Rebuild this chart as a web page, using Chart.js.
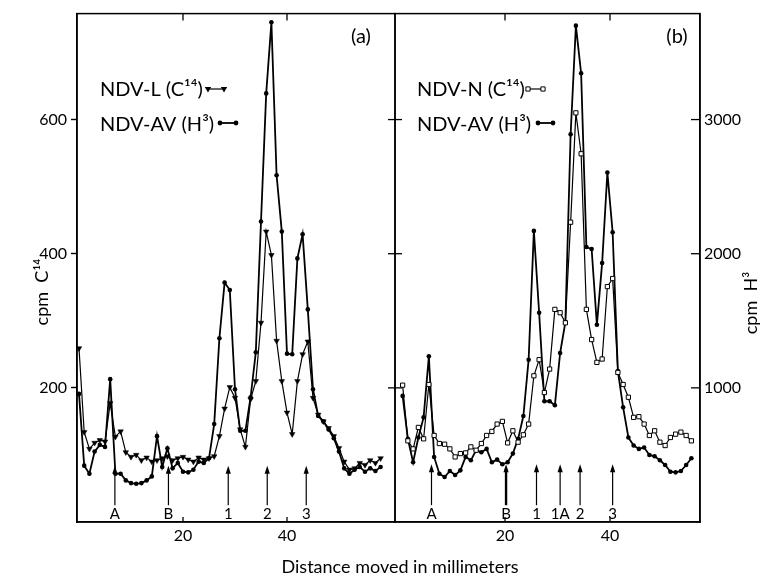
<!DOCTYPE html>
<html><head><meta charset="utf-8">
<script src="https://cdn.jsdelivr.net/npm/chart.js@4.4.1/dist/chart.umd.min.js"></script>
<style>
html,body{margin:0;padding:0;background:#fff;}
#wrap{position:relative;width:777px;height:580px;background:#fff;}
canvas{position:absolute;left:0;top:0;}
</style></head><body>
<div id="wrap"><canvas id="ca" width="777" height="580"></canvas><canvas id="cb" width="777" height="580"></canvas></div>
<script>
// ---------- data ----------
// Panel (a): distance moved (mm)
const mmA = [0,1,2,3,4,5,6,7,8,9,10,11,12,13,14,15,16,17,18,19,20,21,22,23,24,25,26,27,28,29,30,31,32,33,34,35,36,37,38,39,40,41,42,43,44,45,46,47,48,49,50,51,52,53,54,55,56,57,58];
// NDV-L (C14), cpm C14
const ndvL_C14 = [259,134,109,118,122,120,177,127,135,104,
  97,100,92,96,90,92,95,98,92,95,
  97,93,90,96,93,95,98,128,169,201,
  185,138,112,183,210,297,433,398,270,210,
  163,131,210,250,269,185,160,150,140,128,
  110,90,78,80,88,85,92,88,95];
// NDV-AV (H3), cpm H3, panel (a)
const ndvAV_H3_a = [955,420,360,525,575,560,1065,360,360,310,
  290,285,290,310,340,640,410,550,400,440,
  375,370,390,450,440,475,730,1370,1785,1730,
  990,680,680,930,1265,2240,3195,3725,2585,2165,
  1255,1250,1965,2145,1585,990,790,750,690,625,
  525,400,360,390,410,375,400,380,410];
// Panel (b): distance moved (mm)
const mmB = [0.5,1.5,2.5,3.5,4.5,5.5,6.5,7.5,8.5,9.5,10.5,11.5,12.5,13.5,14.5,15.5,16.5,17.5,18.5,19.5,20.5,21.5,22.5,23.5,24.5,25.5,26.5,27.5,28.5,29.5,30.5,31.5,32.5,33.5,34.5,35.5,36.5,37.5,38.5,39.5,40.5,41.5,42.5,43.5,44.5,45.5,46.5,47.5,48.5,49.5,50.5,51.5,52.5,53.5,54.5,55.5];
// NDV-N (C14), cpm C14
const ndvN_C14 = [204,121,109,141,124,205,129,117,116,109,
  97,102,103,112,107,117,129,135,146,150,
  118,136,119,130,146,218,242,193,228,317,
  312,297,447,610,549,317,272,238,243,351,
  363,223,205,186,156,157,146,129,136,119,
  114,126,131,134,129,121];
// NDV-AV (H3), cpm H3, panel (b)
const ndvAV_H3_b = [940,620,445,630,780,1235,485,360,335,380,
  350,385,485,460,535,520,545,445,465,430,
  445,510,620,790,1210,2170,1560,900,900,870,
  1260,1490,2890,3700,3345,2050,2035,1470,1930,2605,
  2160,1125,855,630,570,545,555,500,490,460,
  425,375,370,380,425,475];
// ticks
const xTicks = [20, 40];
const c14Ticks = [200, 400, 600];
const h3Ticks = [1000, 2000, 3000];
// arrow markers (label, mm)
const arrowLabelsA = ['A','B','1','2','3'];
const arrowMmA = [6.9, 17.2, 28.7, 36.2, 43.7];
const arrowLabelsB = ['A','B','1','1A','2','3'];
const arrowMmB = [6.0, 20.2, 26.0, 30.5, 34.3, 40.5];

// ---------- helpers ----------
const FONT = "Lato, 'DejaVu Sans', sans-serif";
const C14_MAX = 758, H3_MAX = 3790;
function pts(xs, ys){ return xs.map((x,i)=>({x:x, y:ys[i]})); }
function ln(ctx,x1,y1,x2,y2){ ctx.beginPath(); ctx.moveTo(x1,y1); ctx.lineTo(x2,y2); ctx.stroke(); }
function arrow(ctx,x,yTip,yBase,lw){
  ctx.lineWidth = lw;
  ln(ctx,x,yBase,x,yTip+4);
  ctx.beginPath(); ctx.moveTo(x,yTip); ctx.lineTo(x-2.6,yTip+8); ctx.lineTo(x+2.6,yTip+8); ctx.closePath(); ctx.fill();
}
function marker(ctx,type,x,y){
  ctx.save();
  if(type==='tri'){ ctx.beginPath(); ctx.moveTo(x-3.2,y-2); ctx.lineTo(x+3.2,y-2); ctx.lineTo(x,y+3.4); ctx.closePath(); ctx.fill(); }
  else if(type==='dot'){ ctx.beginPath(); ctx.arc(x,y,2.4,0,Math.PI*2); ctx.fill(); }
  else { ctx.fillStyle='#fff'; ctx.lineWidth=1; ctx.beginPath(); ctx.rect(x-2.1,y-2.1,4.2,4.2); ctx.fill(); ctx.stroke(); }
  ctx.restore();
}
function legendLine(ctx,type,x1,x2,y,lw){
  ctx.lineWidth = lw; ln(ctx,x1,y,x2,y); marker(ctx,type,x1,y); marker(ctx,type,x2,y);
}
function xAxisOpts(min,max){
  return {type:'linear', min:min, max:max,
    afterBuildTicks: s => { s.ticks = xTicks.map(v=>({value:v})); },
    afterFit: s => { s.height = 58; },
    grid:{display:true, drawOnChartArea:false, drawTicks:false},
    border:{display:true, color:'#000', width:1.5},
    ticks:{color:'#000', font:{family:FONT, size:16}, padding:4, maxRotation:0, autoSkip:false, callback:v=>String(v)}};
}

const decorA = {
  id:'decorA',
  afterDatasetsDraw(chart){
    const {ctx, chartArea:a, scales} = chart;
    const xs = scales.x, yc = scales.y;
    ctx.save();
    ctx.strokeStyle='#000'; ctx.fillStyle='#000';
    ctx.lineWidth = 1.5;
    ctx.strokeRect(a.left, a.top, a.right-a.left, a.bottom-a.top);
    ctx.lineWidth = 1.3;
    xTicks.forEach(v=>{ const p = xs.getPixelForValue(v); ln(ctx,p,a.top,p,a.top+7); ln(ctx,p,a.bottom,p,a.bottom-5); });
    c14Ticks.forEach(v=>{ const p = yc.getPixelForValue(v); ln(ctx,a.right-7,p,a.right+7,p); });
    // arrows
    const yTip = yc.getPixelForValue(84), yBase = yc.getPixelForValue(25), yLab = yc.getPixelForValue(5);
    ctx.font = '15px '+FONT; ctx.textAlign='center'; ctx.textBaseline='alphabetic';
    arrowMmA.forEach((m,i)=>{ const p = xs.getPixelForValue(m); arrow(ctx,p,yTip,yBase,1.2); ctx.fillText(arrowLabelsA[i], p, yLab); });
    // panel label
    ctx.font = '20px '+FONT; ctx.fillText('(a)', 361, 43);
    // legend
    ctx.textAlign='left'; ctx.font = '20px '+FONT;
    ctx.fillText('NDV-L (C¹⁴)', 100, 96);
    ctx.fillText('NDV-AV (H³)', 100, 131);
    legendLine(ctx,'tri',208,224,89,1.2);
    legendLine(ctx,'dot',220,236,123,1.8);
    // axis titles
    ctx.textAlign='center'; ctx.font = '18px '+FONT;
    ctx.fillText('Distance moved in millimeters', 400, 573);
    ctx.save(); ctx.translate(48, 292); ctx.rotate(-Math.PI/2);
    ctx.fillText('cpm  C¹⁴', 0, 0); ctx.restore();
    ctx.restore();
  }
};

const decorB = {
  id:'decorB',
  afterDatasetsDraw(chart){
    const {ctx, chartArea:a, scales} = chart;
    const xs = scales.x, yc = scales.y, yh = scales.y2;
    ctx.save();
    ctx.strokeStyle='#000'; ctx.fillStyle='#000';
    ctx.lineWidth = 1.5;
    ctx.strokeRect(a.left, a.top, a.right-a.left, a.bottom-a.top);
    ctx.lineWidth = 1.3;
    xTicks.forEach(v=>{ const p = xs.getPixelForValue(v); ln(ctx,p,a.top,p,a.top+7); ln(ctx,p,a.bottom,p,a.bottom-5); });
    h3Ticks.forEach(v=>{ const p = yh.getPixelForValue(v); ln(ctx,a.right-9,p,a.right,p); });
    const yTip = yc.getPixelForValue(86), yBase = yc.getPixelForValue(25), yLab = yc.getPixelForValue(5);
    ctx.font = '15px '+FONT; ctx.textAlign='center'; ctx.textBaseline='alphabetic';
    arrowMmB.forEach((m,i)=>{ const p = xs.getPixelForValue(m); arrow(ctx,p,yTip,yBase,arrowLabelsB[i]==='B'?2.4:1.2); ctx.fillText(arrowLabelsB[i], p, yLab); });
    ctx.font = '20px '+FONT; ctx.fillText('(b)', 677, 43);
    ctx.textAlign='left';
    ctx.fillText('NDV-N (C¹⁴)', 417, 96);
    ctx.fillText('NDV-AV (H³)', 417, 131);
    legendLine(ctx,'sq',528,543,89,1.2);
    legendLine(ctx,'dot',538,553,123,1.8);
    ctx.textAlign='center'; ctx.font = '18px '+FONT;
    ctx.save(); ctx.translate(757, 303); ctx.rotate(-Math.PI/2);
    ctx.fillText('cpm  H³', 0, 0); ctx.restore();
    ctx.restore();
  }
};

Chart.defaults.font.family = FONT;
Chart.defaults.color = '#000';

new Chart(document.getElementById('ca'), {
  type:'line',
  data:{datasets:[
    {label:'NDV-L (C14)', data:pts(mmA, ndvL_C14), yAxisID:'y', borderColor:'#000', borderWidth:1.2,
     pointStyle:'triangle', rotation:180, pointRadius:3.2, pointBackgroundColor:'#000', pointBorderColor:'#000', pointBorderWidth:0.5, tension:0, fill:false},
    {label:'NDV-AV (H3)', data:pts(mmA, ndvAV_H3_a), yAxisID:'y2', borderColor:'#000', borderWidth:1.8,
     pointStyle:'circle', pointRadius:2.3, pointBackgroundColor:'#000', pointBorderColor:'#000', pointBorderWidth:0, tension:0, fill:false}
  ]},
  options:{
    responsive:false, animation:false, devicePixelRatio:1,
    layout:{padding:{left:0, right:382, top:10, bottom:0}},
    plugins:{legend:{display:false}, tooltip:{enabled:false}},
    scales:{
      x: xAxisOpts(-0.385, 60.77),
      y:{type:'linear', position:'left', min:0, max:C14_MAX,
        afterBuildTicks: s => { s.ticks = c14Ticks.map(v=>({value:v})); },
        afterFit: s => { s.width = 77; },
        grid:{display:true, drawOnChartArea:false, drawTicks:true, tickLength:6, tickWidth:1.4, tickColor:'#000'},
        border:{display:true, color:'#000', width:1.5},
        ticks:{color:'#000', font:{family:FONT, size:16}, padding:4, callback:v=>String(v)}},
      y2:{type:'linear', display:false, min:0, max:H3_MAX}
    }
  },
  plugins:[decorA]
});

new Chart(document.getElementById('cb'), {
  type:'line',
  data:{datasets:[
    {label:'NDV-N (C14)', data:pts(mmB, ndvN_C14), yAxisID:'y', borderColor:'#000', borderWidth:1.2,
     pointStyle:'rect', pointRadius:3, pointBackgroundColor:'#fff', pointBorderColor:'#000', pointBorderWidth:1, tension:0, fill:false},
    {label:'NDV-AV (H3)', data:pts(mmB, ndvAV_H3_b), yAxisID:'y2', borderColor:'#000', borderWidth:1.8,
     pointStyle:'circle', pointRadius:2.3, pointBackgroundColor:'#000', pointBorderColor:'#000', pointBorderWidth:0, tension:0, fill:false}
  ]},
  options:{
    responsive:false, animation:false, devicePixelRatio:1,
    layout:{padding:{left:395, right:0, top:10, bottom:0}},
    plugins:{legend:{display:false}, tooltip:{enabled:false}},
    scales:{
      x: xAxisOpts(-0.95, 57.14),
      y:{type:'linear', display:false, min:0, max:C14_MAX},
      y2:{type:'linear', position:'right', min:0, max:H3_MAX,
        afterBuildTicks: s => { s.ticks = h3Ticks.map(v=>({value:v})); },
        afterFit: s => { s.width = 77; },
        grid:{display:true, drawOnChartArea:false, drawTicks:false},
        border:{display:true, color:'#000', width:1.5},
        ticks:{color:'#000', font:{family:FONT, size:16}, padding:4, callback:v=>String(v)}}
    }
  },
  plugins:[decorB]
});
</script>
</body></html>
